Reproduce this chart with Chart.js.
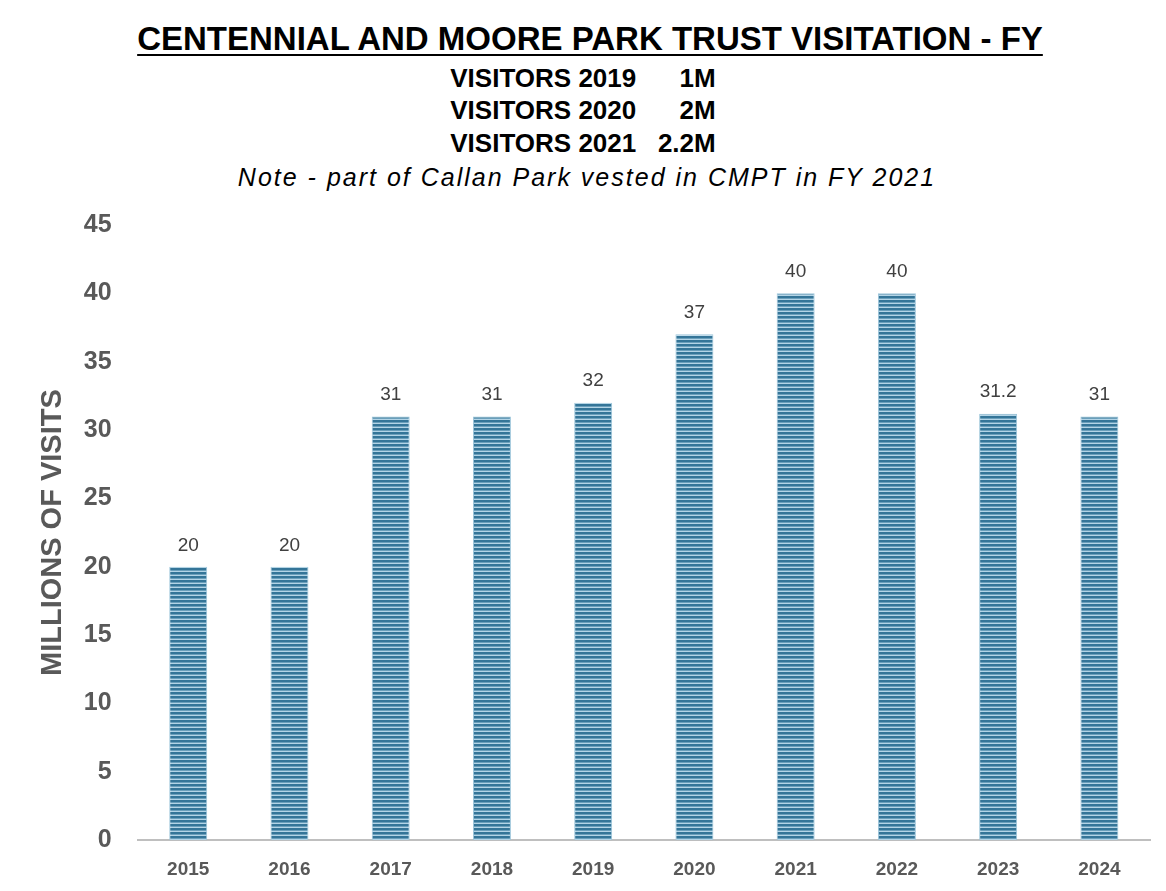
<!DOCTYPE html>
<html>
<head>
<meta charset="utf-8">
<script src="https://cdn.jsdelivr.net/npm/chart.js@4.4.0/dist/chart.umd.min.js"></script>
<style>
  body { margin: 0; background: #fff; font-family: "Liberation Sans", Arial, sans-serif; overflow: hidden; }
  #head { position: absolute; left: 0; top: 0; width: 1180px; text-align: center; color: #000; }
  .t1 { position: absolute; left: 0; right: 0; top: 20px; font-size: 33px; font-weight: bold; }
  .t1 span { text-decoration: underline; text-decoration-thickness: 2px; text-underline-offset: 4px; }
  .sub { position: absolute; left: -14px; right: 0; font-size: 26px; font-weight: bold; white-space: pre; }
  .note { position: absolute; left: -6px; right: 0; top: 163px; font-size: 25px; font-style: italic; letter-spacing: 2px; }
  #wrap { position: absolute; left: 0; top: 184px; width: 1166px; height: 723px; }
</style>
</head>
<body>
<div id="head">
  <div class="t1"><span>CENTENNIAL AND MOORE PARK TRUST VISITATION - FY</span></div>
  <div class="sub" style="top:63px">VISITORS 2019      1M</div>
  <div class="sub" style="top:95px">VISITORS 2020      2M</div>
  <div class="sub" style="top:128px">VISITORS 2021   2.2M</div>
  <div class="note">Note - part of Callan Park vested in CMPT in FY 2021</div>
</div>
<div id="wrap"><canvas id="chart"></canvas></div>
<script>
const years = ['2015', '2016', '2017', '2018', '2019', '2020', '2021', '2022', '2023', '2024'];
const visits = [20, 20, 31, 31, 32, 37, 40, 40, 31.2, 31];
const yTicks = [0, 5, 10, 15, 20, 25, 30, 35, 40, 45];

// horizontal stripe fill like the original
function stripes() {
  const c = document.createElement('canvas');
  c.width = 4; c.height = 4;
  const g = c.getContext('2d');
  g.fillStyle = '#b3d4e6';
  g.fillRect(0, 0, 4, 4);
  g.fillStyle = '#347598';
  g.fillRect(0, 0, 4, 2);
  g.fillStyle = '#6a9fbb';
  g.fillRect(0, 2, 4, 1);
  return g.createPattern(c, 'repeat');
}

const valueLabels = {
  id: 'valueLabels',
  afterDatasetsDraw(chart) {
    const ctx = chart.ctx;
    const meta = chart.getDatasetMeta(0);
    ctx.save();
    ctx.font = '19px "Liberation Sans", Arial, sans-serif';
    ctx.fillStyle = '#404040';
    ctx.textAlign = 'center';
    ctx.textBaseline = 'bottom';
    meta.data.forEach((bar, i) => {
      ctx.fillText(String(visits[i]), bar.x, bar.y - 12);
    });
    ctx.restore();
  }
};

const ctx = document.getElementById('chart').getContext('2d');
new Chart(ctx, {
  type: 'bar',
  data: {
    labels: years,
    datasets: [{
      data: visits,
      backgroundColor: stripes(),
      borderColor: '#9cc5da',
      borderWidth: 1,
      barPercentage: 0.75,
      categoryPercentage: 0.5
    }]
  },
  options: {
    responsive: true,
    maintainAspectRatio: false,
    animation: false,
    layout: { padding: { left: 36, right: 16, top: 0, bottom: 8 } },
    plugins: { legend: { display: false }, tooltip: { enabled: false } },
    scales: {
      y: {
        min: 0,
        max: 45,
        afterBuildTicks: (axis) => { axis.ticks = yTicks.map(v => ({ value: v })); },
        grid: { display: false, drawTicks: false },
        border: { display: false },
        ticks: {
          color: '#595959',
          padding: 26,
          font: { size: 25, weight: 'bold', family: '"Liberation Sans", Arial, sans-serif' }
        },
        title: {
          display: true,
          text: 'MILLIONS OF VISITS',
          color: '#595959',
          padding: { top: 0, bottom: -13 },
          font: { size: 29, weight: 'bold', family: '"Liberation Sans", Arial, sans-serif' }
        }
      },
      x: {
        grid: { display: false, drawTicks: false },
        border: { display: true, color: '#bfbfbf', width: 2 },
        ticks: {
          color: '#595959',
          padding: 18,
          font: { size: 19, weight: 'bold', family: '"Liberation Sans", Arial, sans-serif' }
        }
      }
    }
  },
  plugins: [valueLabels]
});
</script>
</body>
</html>
